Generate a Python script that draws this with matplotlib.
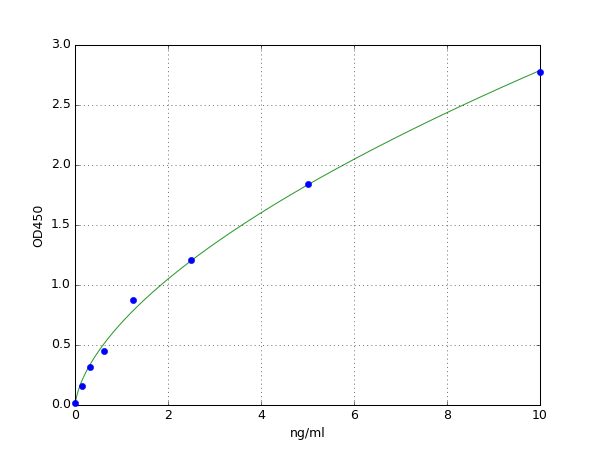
import numpy as np
import matplotlib
matplotlib.use("Agg")
import matplotlib.pyplot as plt

plt.style.use('classic')

conc = [0.0, 0.156, 0.3125, 0.625, 1.25, 2.5, 5.0, 10.0]
od = [0.02, 0.156, 0.314, 0.45, 0.875, 1.206, 1.84, 2.775]
x_label = "ng/ml"
y_label = "OD450"

# fit y = a + b * x^c to the data (least squares over a grid of c)
xa = np.array(conc)
ya = np.array(od)
best = None
for c in np.linspace(0.2, 1.2, 1001):
    A = np.vstack([np.ones_like(xa), xa ** c]).T
    coef, res, *_ = np.linalg.lstsq(A, ya, rcond=None)
    err = np.sum((A @ coef - ya) ** 2)
    if best is None or err < best[0]:
        best = (err, c, coef)
_, c_fit, (a_fit, b_fit) = best
xf = np.linspace(0, 10, 500)
yf = a_fit + b_fit * xf ** c_fit

fig = plt.figure(figsize=(8, 6), dpi=75, facecolor='white')
ax = fig.add_subplot(111)
ax.plot(xf, yf, color='#2f9a2f', linewidth=1)
ax.plot(conc, od, 'o', color='b', markersize=6, markeredgecolor='b', clip_on=False, zorder=5)
ax.set_xlim(0, 10)
ax.set_ylim(0, 3.0)
ax.grid(True)
ax.set_xlabel(x_label)
ax.set_ylabel(y_label)
fig.savefig("out.png", dpi=75, facecolor='white')
